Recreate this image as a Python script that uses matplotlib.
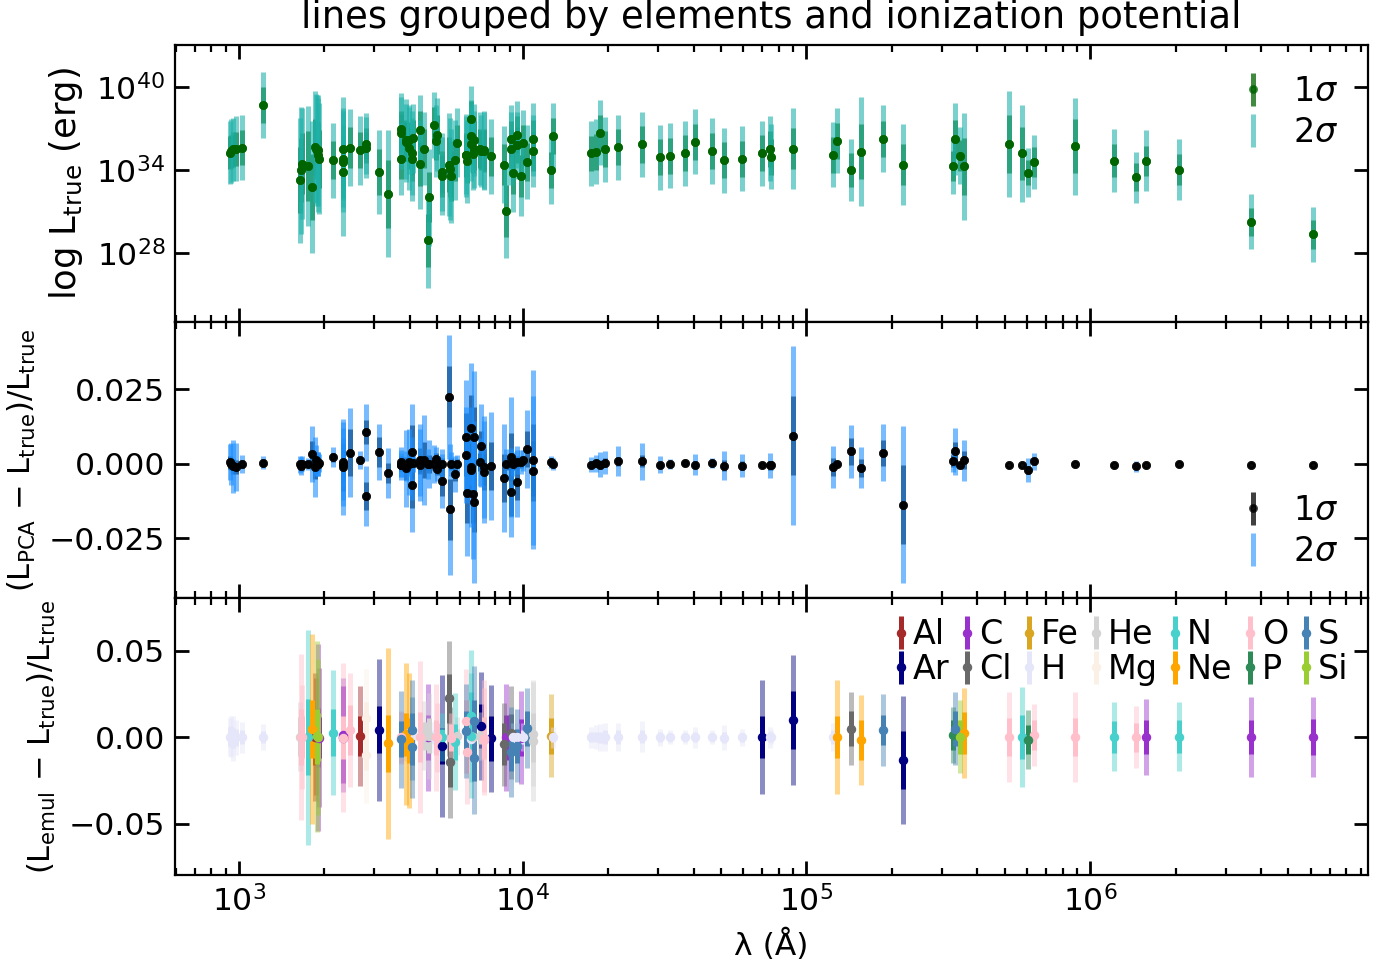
import matplotlib

matplotlib.use("Agg")
import matplotlib.pyplot as plt
import numpy as np
from matplotlib.ticker import FixedLocator, NullLocator

# emission lines: wavelength (Angstrom) and element
wavelength = [
    930.7, 937.8, 949.7, 972.5, 1025.7, 1215.7, 1640.4, 1660.8, 1666.2, 1750.0,
    1814.6, 1854.7, 1862.8, 1882.7, 1892.0, 1906.7, 1908.7, 2140.0, 2321.0, 2323.5,
    2325.4, 2328.1, 2471.0, 2669.0, 2795.5, 2802.7, 3109.0, 3345.9, 3721.6, 3726.0,
    3728.8, 3868.8, 3888.6, 3967.5, 3970.1, 4068.6, 4076.3, 4101.7, 4340.5, 4363.2,
    4471.5, 4650.0, 4685.7, 4861.3, 4958.9, 5006.8, 5191.8, 5199.6, 5517.7, 5537.9,
    5577.3, 5754.6, 5875.6, 6300.3, 6312.1, 6363.8, 6548.1, 6562.8, 6583.5, 6678.2,
    6716.4, 6730.8, 7065.2, 7135.8, 7319.9, 7330.7, 7751.1, 8578.7, 8727.1, 9068.6,
    9123.6, 9229.0, 9530.6, 9545.9, 9850.3, 10049.4, 10320.5, 10830.3, 10833.3, 12566.8,
    12818.1, 17366.9, 18179.1, 18756.1, 19450.9, 21661.2, 26258.7, 30392.0, 32969.8, 37405.6,
    40522.6, 46537.8, 51286.5, 59082.2, 69852.7, 74578.0, 75024.6, 89913.8, 123719.0, 128135.5,
    143678.0, 155509.0, 186713.0, 218302.0, 328708.0, 334704.0, 348140.0, 360036.0, 518145.0, 573238.0,
    605990.0, 631852.0, 883564.0, 1217670.0, 1455350.0, 1576360.0, 2053010.0, 3698470.0, 6093500.0,
]
element = [
    "H", "H", "H", "H", "H", "H", "He", "O", "O", "N",
    "Ne", "Al", "Al", "Si", "Si", "C", "C", "N", "O", "C",
    "C", "C", "O", "Al", "Mg", "Mg", "Ar", "Ne", "S", "O",
    "O", "Ne", "He", "Ne", "H", "S", "S", "H", "H", "O",
    "He", "C", "He", "H", "O", "O", "Ar", "N", "Cl", "Cl",
    "O", "N", "He", "O", "S", "O", "N", "H", "N", "He",
    "S", "S", "He", "Ar", "O", "O", "Ar", "Cl", "C", "S",
    "Cl", "H", "S", "H", "C", "H", "S", "He", "He", "Fe",
    "H", "H", "H", "H", "H", "H", "H", "H", "H", "H",
    "H", "H", "H", "H", "Ar", "H", "H", "Ar", "H", "Ne",
    "Cl", "Ne", "S", "Ar", "P", "S", "Si", "Ne", "O", "N",
    "P", "O", "O", "N", "O", "C", "N", "C", "C",
]

# top panel: log10 L_true (erg) and 1/2 sigma widths in dex
log_l_true = [
    35.28, 35.37, 35.50, 35.54, 35.64, 38.70, 33.28, 34.00, 34.48, 34.31,
    32.80, 35.69, 35.57, 35.45, 35.08, 35.45, 34.84, 34.72, 34.84, 35.57,
    34.60, 33.88, 35.64, 35.45, 35.93, 35.64, 33.88, 32.29, 34.80, 36.96,
    36.70, 36.15, 36.05, 35.60, 36.20, 35.25, 34.80, 36.30, 36.94, 34.43,
    35.57, 28.94, 32.07, 37.25, 36.12, 36.58, 33.88, 33.57, 34.41, 34.10,
    33.57, 34.72, 36.00, 35.08, 35.08, 34.65, 35.93, 37.71, 36.48, 35.20,
    36.17, 35.50, 35.57, 35.40, 35.45, 35.40, 35.00, 34.41, 31.06, 36.24,
    35.57, 33.80, 36.58, 35.80, 33.57, 35.98, 34.60, 36.22, 35.37, 34.05,
    36.46, 35.21, 35.33, 36.72, 35.50, 35.66, 35.86, 34.94, 35.06, 35.23,
    36.07, 35.39, 34.72, 34.84, 35.23, 35.54, 34.99, 35.57, 35.13, 36.12,
    34.02, 35.35, 36.29, 34.41, 34.31, 36.24, 35.06, 34.29, 35.90, 35.21,
    33.83, 34.60, 35.73, 34.70, 33.51, 34.70, 34.05, 30.29, 29.37,
]
sig1_l_true = [
    1.20, 1.20, 1.25, 1.25, 1.26, 1.28, 2.37, 2.30, 2.20, 2.55,
    2.40, 2.00, 2.00, 2.10, 2.10, 2.00, 2.10, 1.38, 1.80, 1.70,
    1.80, 1.90, 1.48, 1.30, 1.10, 1.10, 1.69, 2.47, 1.40, 1.35,
    1.35, 1.50, 1.40, 1.50, 1.30, 1.60, 1.60, 1.30, 1.30, 1.60,
    1.40, 1.90, 1.80, 1.30, 1.40, 1.40, 1.50, 1.50, 2.00, 2.00,
    1.80, 1.50, 1.30, 1.60, 1.50, 1.60, 1.50, 1.30, 1.40, 1.40,
    1.40, 1.50, 1.40, 1.40, 1.50, 1.50, 1.40, 1.50, 1.90, 1.30,
    1.40, 1.50, 1.30, 1.30, 1.50, 1.30, 1.40, 1.40, 1.40, 1.30,
    1.30, 1.28, 1.30, 1.30, 1.30, 1.30, 1.30, 1.30, 1.30, 1.30,
    1.30, 1.30, 1.30, 1.30, 1.30, 1.30, 1.30, 1.50, 1.30, 1.30,
    1.20, 2.00, 1.30, 1.50, 1.06, 1.39, 1.10, 2.05, 2.10, 1.90,
    0.90, 1.05, 1.95, 1.16, 0.99, 1.08, 1.12, 1.02, 1.05,
]
sig2_l_true = [
    2.30, 2.30, 2.30, 2.35, 2.35, 2.36, 4.50, 4.60, 4.00, 4.36,
    4.75, 4.00, 3.90, 4.00, 4.10, 4.00, 4.00, 2.70, 3.50, 3.70,
    3.60, 4.60, 2.77, 2.50, 2.20, 2.20, 3.06, 4.58, 2.60, 2.60,
    2.60, 3.00, 2.70, 3.00, 2.50, 3.00, 3.00, 2.50, 2.50, 3.20,
    2.60, 3.40, 3.50, 2.40, 2.60, 2.60, 2.80, 2.80, 3.70, 3.70,
    3.40, 2.90, 2.50, 3.00, 2.80, 3.00, 2.70, 2.40, 2.60, 2.60,
    2.60, 2.80, 2.60, 2.60, 2.80, 2.80, 2.70, 2.80, 3.40, 2.50,
    2.60, 2.80, 2.40, 2.40, 2.90, 2.40, 2.70, 2.60, 2.60, 2.50,
    2.40, 2.35, 2.35, 2.35, 2.35, 2.35, 2.35, 2.35, 2.35, 2.35,
    2.35, 2.35, 2.35, 2.35, 2.35, 2.35, 2.35, 2.90, 2.35, 2.35,
    2.25, 3.90, 2.40, 2.90, 2.00, 2.60, 2.05, 3.85, 3.80, 3.50,
    1.77, 1.95, 3.50, 2.30, 1.84, 2.17, 2.17, 1.99, 2.00,
]

# middle panel: (L_PCA - L_true)/L_true, in units of 1e-3
pca_resid = [
    0.5, -0.2, -0.9, -1.1, -0.1, 0.3, -0.2, -0.9, 0.0, 0.0,
    3.3, -1.1, 1.3, 0.0, -0.2, -0.2, 0.2, 2.2, 0.5, -1.1,
    0.0, 0.0, 3.7, 1.1, 10.5, -10.8, 3.9, -3.1, -0.5, 0.5,
    -0.3, -1.6, -0.8, 0.5, 0.0, 3.9, -7.0, 0.3, -0.5, 1.3,
    1.3, 0.0, 0.0, 0.0, 1.7, -1.7, -5.8, 0.0, 22.4, -15.3,
    0.0, -3.4, 0.0, 9.1, 3.0, -9.8, 11.9, -2.0, -1.1, -10.0,
    9.1, -12.8, 0.5, 6.1, -1.1, -2.8, -0.8, -4.8, 0.0, 2.2,
    -9.6, 0.0, -6.0, 0.5, 0.5, 1.1, 5.0, 1.3, -2.4, 0.5,
    0.0, -0.3, 0.1, -0.3, 0.4, 0.8, 0.9, -0.3, 0.0, 0.2,
    -0.3, 0.1, -0.7, -0.6, -0.3, -0.5, -0.5, 9.4, -1.1, 0.0,
    4.1, -1.3, 3.7, -13.7, 0.8, 4.1, -0.3, 1.1, -0.3, -0.3,
    -2.1, 0.8, -0.1, -0.4, -0.9, -0.3, 0.0, -0.3, -0.3,
]
sig1_pca = [
    2.2, 2.0, 2.5, 2.5, 1.5, 1.2, 1.2, 1.5, 1.0, 0.8,
    4.4, 4.0, 2.0, 2.0, 2.0, 2.0, 1.5, 1.5, 3.0, 8.0,
    6.0, 5.0, 7.8, 1.2, 4.0, 4.7, 5.0, 3.3, 2.0, 2.0,
    2.0, 4.0, 2.0, 3.5, 1.5, 9.0, 8.0, 1.5, 3.0, 4.0,
    6.0, 2.0, 3.0, 2.0, 2.0, 2.0, 5.0, 2.0, 10.2, 10.2,
    2.0, 2.5, 1.5, 8.0, 7.0, 10.0, 11.0, 2.0, 8.0, 10.0,
    10.0, 10.0, 3.0, 5.0, 6.0, 6.0, 8.0, 8.0, 2.0, 8.0,
    8.0, 2.0, 6.0, 2.0, 2.0, 1.5, 6.0, 12.0, 10.0, 1.0,
    1.0, 1.0, 1.2, 1.5, 1.5, 1.5, 2.0, 1.0, 0.5, 0.3,
    1.2, 0.5, 1.8, 1.5, 0.2, 1.5, 0.5, 13.2, 3.0, 0.5,
    4.5, 3.0, 4.3, 13.3, 2.0, 3.3, 0.5, 3.0, 0.0, 0.0,
    1.5, 1.2, 0.0, 0.0, 0.8, 0.0, 0.0, 0.0, 0.0,
]
sig2_pca = [
    6.0, 7.0, 9.0, 8.0, 3.0, 2.2, 2.8, 3.0, 2.5, 2.0,
    9.5, 10.0, 5.0, 4.0, 4.0, 4.0, 3.0, 3.3, 8.0, 16.0,
    14.0, 12.0, 15.0, 3.0, 9.5, 10.0, 9.5, 8.3, 4.0, 5.0,
    5.0, 13.0, 5.0, 11.0, 4.0, 16.0, 16.0, 3.0, 12.0, 12.0,
    15.0, 5.0, 8.0, 6.3, 4.0, 4.0, 8.9, 5.0, 20.7, 22.0,
    4.0, 6.1, 3.0, 19.0, 16.0, 21.0, 22.0, 5.0, 20.0, 22.0,
    22.0, 27.0, 8.0, 14.0, 17.0, 17.0, 18.0, 18.0, 5.0, 20.0,
    15.0, 4.0, 12.0, 4.0, 4.0, 3.5, 13.0, 30.0, 25.0, 2.0,
    2.0, 2.4, 2.8, 4.2, 4.0, 5.0, 6.2, 2.8, 1.7, 0.8,
    3.5, 1.7, 4.8, 3.8, 0.5, 4.2, 1.5, 30.0, 7.0, 1.0,
    8.8, 7.0, 9.6, 26.4, 3.6, 8.0, 1.0, 7.0, 0.0, 0.0,
    4.0, 2.8, 0.0, 0.0, 1.8, 0.0, 0.0, 0.0, 0.0,
]

# bottom panel: (L_emul - L_true)/L_true, in units of 1e-3
emul_resid = [
    0.3, 0.5, -0.5, 0.0, 0.0, 0.0, 0.4, 0.0, 0.0, 0.0,
    4.6, 0.0, 0.4, 0.5, 0.0, 0.0, -0.3, 2.7, -0.3, 1.3,
    -0.3, 0.0, 4.0, 0.8, 11.3, -10.2, 4.4, -3.6, -1.1, 0.2,
    -0.3, 1.7, 0.2, -2.1, 2.7, 4.2, -5.9, 1.5, 0.0, 0.0,
    0.8, 0.0, 0.8, 0.0, 0.0, 0.0, -5.0, 0.0, 22.4, -14.6,
    -0.2, -2.7, 0.8, 9.4, 3.6, -8.8, 12.3, -1.2, 0.8, 0.4,
    9.4, -12.1, 0.8, 6.5, -0.2, -1.7, -0.6, -4.0, 0.0, -8.8,
    2.7, 0.0, -5.0, 0.0, -0.2, 0.0, 5.2, 1.7, -2.1, 0.8,
    0.0, 0.0, 0.0, -0.2, 0.0, 0.2, 0.4, 0.0, 0.0, 0.0,
    0.0, 0.0, -0.2, 0.0, 0.2, 0.0, 0.0, 9.8, 0.0, 0.2,
    5.0, -1.5, 4.2, -13.2, 1.3, 5.0, 0.2, 2.3, 0.2, 0.2,
    -1.5, 1.3, 0.2, 0.2, 0.0, 0.2, 0.2, 0.2, 0.2,
]
sig1_emul = [
    5.5, 6.0, 6.0, 5.0, 4.0, 3.5, 11.0, 16.0, 12.0, 22.0,
    16.8, 16.0, 14.0, 16.0, 14.0, 17.0, 12.0, 13.4, 12.5, 28.0,
    8.0, 6.0, 14.4, 11.5, 9.0, 9.0, 13.4, 16.7, 10.5, 8.0,
    8.0, 12.5, 6.0, 13.0, 4.0, 10.0, 10.0, 4.0, 4.0, 14.4,
    8.0, 13.0, 10.0, 4.0, 10.0, 8.0, 10.5, 5.0, 14.0, 14.0,
    8.0, 10.5, 4.0, 12.0, 11.5, 12.0, 14.0, 4.0, 12.0, 6.0,
    12.0, 13.0, 5.0, 12.5, 12.0, 11.0, 13.0, 12.0, 13.0, 11.0,
    10.5, 4.0, 10.0, 4.0, 10.5, 4.0, 10.0, 12.0, 12.0, 10.5,
    3.0, 3.0, 3.0, 3.0, 4.0, 4.0, 4.0, 3.0, 2.0, 2.0,
    3.0, 2.0, 3.0, 2.5, 12.2, 3.0, 2.0, 16.8, 4.0, 12.0,
    10.2, 11.4, 8.8, 16.7, 8.6, 10.0, 10.0, 12.0, 11.0, 12.7,
    8.4, 8.6, 11.0, 9.3, 8.4, 10.0, 9.6, 10.0, 10.2,
]
sig2_emul = [
    11.0, 12.0, 13.0, 10.0, 9.0, 7.5, 20.0, 48.0, 30.0, 62.0,
    55.0, 37.0, 34.0, 55.0, 45.0, 54.0, 40.0, 36.0, 43.0, 33.0,
    16.0, 12.0, 33.0, 29.0, 28.0, 28.0, 41.0, 55.0, 28.0, 15.0,
    15.0, 41.0, 14.0, 39.0, 10.0, 29.0, 29.0, 9.0, 9.0, 44.0,
    20.0, 31.0, 25.0, 9.0, 31.0, 20.0, 41.0, 14.0, 33.0, 32.0,
    14.0, 28.0, 11.0, 30.0, 27.0, 30.0, 38.0, 9.0, 36.0, 14.0,
    32.0, 32.0, 14.0, 31.0, 33.0, 30.0, 31.0, 24.0, 31.0, 26.0,
    27.0, 8.0, 21.0, 8.0, 27.0, 8.0, 23.0, 30.0, 35.0, 24.0,
    6.0, 6.0, 7.0, 8.0, 8.0, 8.0, 9.0, 5.0, 4.0, 4.0,
    6.0, 4.0, 7.0, 5.0, 33.0, 6.0, 4.0, 37.4, 8.0, 33.0,
    21.0, 26.0, 21.0, 37.0, 16.0, 21.0, 21.0, 26.0, 26.0, 29.0,
    17.0, 18.0, 26.0, 20.0, 18.0, 22.0, 20.0, 23.0, 23.0,
]

element_colors = {
    "Al": "brown", "Ar": "navy", "C": "darkorchid", "Cl": "dimgray",
    "Fe": "goldenrod", "H": "lavender", "He": "lightgray", "Mg": "linen",
    "N": "mediumturquoise", "Ne": "orange", "O": "pink", "P": "seagreen",
    "S": "steelblue", "Si": "yellowgreen",
}

plt.rcParams["font.family"] = "DejaVu Sans"
plt.rcParams["xtick.labelsize"] = 11.3
plt.rcParams["ytick.labelsize"] = 11.3

wl = np.array(wavelength)
el = np.array(element)

fig, axes = plt.subplots(3, 1, figsize=(6.96, 4.865), dpi=200, sharex=True)
fig.subplots_adjust(left=0.1257, right=0.9828, top=0.9538, bottom=0.1007, hspace=0)
ax1, ax2, ax3 = axes

# top: true luminosities with 1 and 2 sigma ranges (log-symmetric)
logl = np.array(log_l_true)
lum = 10.0 ** logl
err1 = [lum - 10.0 ** (logl - np.array(sig1_l_true)), 10.0 ** (logl + np.array(sig1_l_true)) - lum]
err2 = [lum - 10.0 ** (logl - np.array(sig2_l_true)), 10.0 ** (logl + np.array(sig2_l_true)) - lum]
ax1.errorbar(wl, lum, yerr=err1, fmt="o", ms=2.2, color="darkgreen",
             elinewidth=1.8, alpha=0.75, label=r"1$\sigma$")
ax1.errorbar(wl, lum, yerr=err2, fmt="none", ecolor="lightseagreen",
             elinewidth=1.8, alpha=0.6, label=r"2$\sigma$")
ax1.plot(wl, lum, "o", ms=2.2, color="darkgreen", zorder=5)
ax1.set_yscale("log")
ax1.set_ylim(10 ** 23.08, 10 ** 43.04)
ax1.yaxis.set_major_locator(FixedLocator([1e28, 1e34, 1e40]))
ax1.yaxis.set_minor_locator(NullLocator())
ax1.set_ylabel(r"log L$_{\rm true}$ (erg)", fontsize=12.7)
ax1.legend(loc="upper right", fontsize=12, frameon=False,
           handlelength=1.0, handletextpad=0.7, labelspacing=0.25)
ax1.set_title("lines grouped by elements and ionization potential", fontsize=13.3)

# middle: PCA reconstruction residuals
pca = np.array(pca_resid) * 1e-3
ax2.errorbar(wl, pca, yerr=np.array(sig1_pca) * 1e-3, fmt="o", ms=2.2, color="black",
             elinewidth=1.8, alpha=0.75, label=r"1$\sigma$")
ax2.errorbar(wl, pca, yerr=np.array(sig2_pca) * 1e-3, fmt="none", ecolor="dodgerblue",
             elinewidth=1.8, alpha=0.6, label=r"2$\sigma$")
ax2.plot(wl, pca, "o", ms=2.2, color="black", alpha=0.8, zorder=5)
ax2.set_ylim(-0.0451, 0.0476)
ax2.yaxis.set_major_locator(FixedLocator([-0.025, 0.0, 0.025]))
ax2.yaxis.set_major_formatter(plt.FuncFormatter(lambda v, _: f"{v:.3f}".replace("-", "\u2212")))
ax2.set_ylabel(r"(L$_{\rm PCA}$ $-$ L$_{\rm true}$)/L$_{\rm true}$", fontsize=11)
ax2.legend(loc="lower right", fontsize=12, frameon=False,
           handlelength=1.0, handletextpad=0.7, labelspacing=0.25)

# bottom: emulator residuals coloured by element
emul = np.array(emul_resid) * 1e-3
e1 = np.array(sig1_emul) * 1e-3
e2 = np.array(sig2_emul) * 1e-3
for name, color in element_colors.items():
    sel = el == name
    ax3.errorbar(wl[sel], emul[sel], yerr=e2[sel], fmt="none", ecolor=color,
                 elinewidth=1.8, alpha=0.45)
    ax3.errorbar(wl[sel], emul[sel], yerr=e1[sel], fmt="o", ms=2.4, color=color,
                 elinewidth=1.8, label=name)
ax3.set_ylim(-0.0796, 0.0802)
ax3.yaxis.set_major_locator(FixedLocator([-0.05, 0.0, 0.05]))
ax3.yaxis.set_major_formatter(plt.FuncFormatter(lambda v, _: f"{v:.2f}".replace("-", "\u2212")))
ax3.set_ylabel(r"(L$_{\rm emul}$ $-$ L$_{\rm true}$)/L$_{\rm true}$", fontsize=11)
ax3.legend(loc="upper right", ncol=7, fontsize=12, frameon=False,
           handlelength=0.4, handletextpad=0.15, columnspacing=0.33,
           borderaxespad=0.2, labelspacing=0.05)

ax3.set_xscale("log")
ax3.set_xlim(594.9, 9.54e6)
ax3.set_xlabel("λ (Å)", fontsize=11.3)

for ax in axes:
    ax.tick_params(which="both", direction="in", top=True, right=True)
    ax.tick_params(which="major", length=5, width=1.0)
    ax.tick_params(which="minor", length=2.5, width=0.8)
    ax.set_xscale("log")

fig.savefig("out.png", dpi=200)
